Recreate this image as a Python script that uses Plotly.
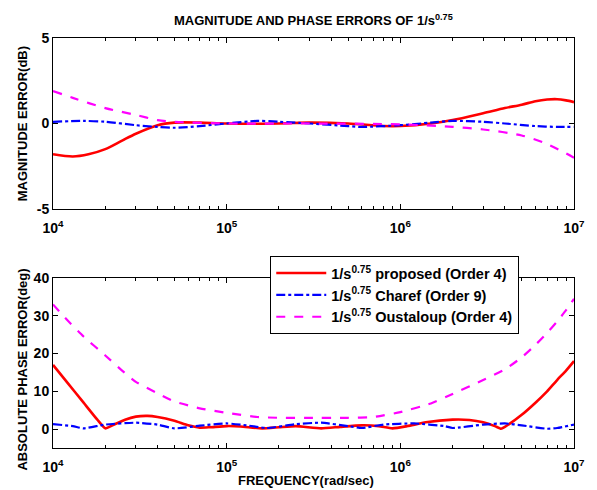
import plotly.graph_objects as go

# Magnitude error (dB) vs frequency (rad/sec)
freq_mag_proposed = [1e4, 1.3e4, 1.6e4, 2e4, 2.5e4, 3e4, 4e4, 5e4, 7e4, 1e5, 2e5, 3e5, 5e5,
                     8e5, 1e6, 1.5e6, 2e6, 3e6, 4e6, 5e6, 6e6, 7e6, 8e6, 9e6, 1e7]
mag_proposed = [-1.8, -1.93, -1.8, -1.5, -1.0, -0.6, -0.1, 0.05, 0.05, 0.0, 0.0, 0.05, 0.0,
                -0.15, -0.15, 0.0, 0.2, 0.6, 0.9, 1.1, 1.3, 1.4, 1.42, 1.35, 1.25]

freq_mag_charef = [1e4, 1.5e4, 2e4, 3e4, 4e4, 5e4, 7e4, 1e5, 1.5e5, 2e5, 3e5, 5e5, 6e5,
                   1e6, 1.5e6, 2e6, 3e6, 4e6, 6e6, 8e6, 1e7]
mag_charef = [0.1, 0.15, 0.1, -0.1, -0.2, -0.25, -0.15, 0.0, 0.15, 0.1, 0.0, -0.15, -0.2,
              -0.1, 0.05, 0.15, 0.1, 0.0, -0.15, -0.2, -0.2]

freq_mag_oustaloup = [1e4, 1.3e4, 2e4, 3e4, 4e4, 5e4, 1e5, 3e5, 1e6, 2e6, 3e6, 5e6, 7e6, 1e7]
mag_oustaloup = [1.9, 1.5, 0.9, 0.5, 0.2, 0.1, 0.0, 0.0, -0.05, -0.2, -0.35, -0.7, -1.2, -2.0]

# Absolute phase error (deg) vs frequency (rad/sec)
freq_ph_proposed = [1e4, 1.2e4, 1.5e4, 1.8e4, 2e4, 2.2e4, 2.6e4, 3e4, 3.5e4, 4e4, 5e4, 6e4,
                    7e4, 8e4, 1e5, 1.2e5, 1.6e5, 2e5, 2.5e5, 3.5e5, 4.5e5, 6e5, 7.5e5, 9e5,
                    1.1e6, 1.4e6, 2e6, 2.5e6, 3e6, 3.5e6, 3.8e6, 4e6, 5e6, 6e6, 7e6, 8e6,
                    9e6, 1e7]
ph_proposed = [17.0, 12.5, 7.0, 2.5, 0.2, 1.0, 2.5, 3.3, 3.5, 3.2, 2.2, 1.0,
               0.4, 0.5, 0.8, 0.7, 0.2, 0.5, 0.8, 0.2, 0.6, 1.0, 0.8, 0.2,
               0.8, 1.8, 2.5, 2.4, 1.8, 0.8, 0.1, 0.6, 3.8, 7.0, 10.0, 13.0,
               15.5, 18.0]

freq_ph_charef = [1e4, 1.3e4, 1.5e4, 2e4, 3e4, 4e4, 5e4, 7e4, 1e5, 1.3e5, 1.7e5, 2.5e5,
                  3.5e5, 5e5, 6e5, 8e5, 1.2e6, 1.8e6, 2e6, 3e6, 4e6, 5e6, 7e6, 8e6, 1e7]
ph_charef = [1.3, 0.8, 0.2, 1.2, 1.7, 1.2, 0.2, 0.9, 1.5, 1.0, 0.3, 1.3,
             1.7, 0.8, 0.3, 1.2, 1.5, 0.8, 0.3, 1.2, 1.5, 1.0, 0.1, 0.3, 1.2]

freq_ph_oustaloup = [1e4, 1.2e4, 1.5e4, 2e4, 2.5e4, 3e4, 4e4, 5e4, 7e4, 1e5, 1.5e5, 2e5,
                     3e5, 5e5, 7e5, 1e6, 1.5e6, 2e6, 3e6, 4e6, 5e6, 6e6, 7e6, 8e6, 9e6, 1e7]
ph_oustaloup = [33.0, 29.0, 24.5, 19.5, 15.5, 12.5, 9.5, 7.3, 5.5, 4.3, 3.2, 3.0,
                3.0, 3.0, 3.2, 4.5, 6.8, 9.3, 13.0, 15.8, 19.0, 22.3, 25.5, 28.5, 31.5, 34.5]

names = ["1/s<sup>0.75</sup> proposed (Order 4)",
         "1/s<sup>0.75</sup> Charef (Order 9)",
         "1/s<sup>0.75</sup> Oustaloup (Order 4)"]
colors = ["#ff0000", "#0000ff", "#ff00ff"]
dashes = ["solid", "dashdot", "dash"]
widths = [2.6, 2.2, 2.2]

xtick_vals = [1e4, 1e5, 1e6, 1e7]
xtick_text = ["10<sup>4</sup>", "10<sup>5</sup>", "10<sup>6</sup>", "10<sup>7</sup>"]

FONT = "Liberation Sans"

fig = go.Figure()

mag_series = [(freq_mag_proposed, mag_proposed), (freq_mag_charef, mag_charef),
              (freq_mag_oustaloup, mag_oustaloup)]
ph_series = [(freq_ph_proposed, ph_proposed), (freq_ph_charef, ph_charef),
             (freq_ph_oustaloup, ph_oustaloup)]

for i, (fx, fy) in enumerate(mag_series):
    fig.add_trace(go.Scatter(
        x=fx, y=fy, mode="lines", xaxis="x", yaxis="y", showlegend=False,
        line=dict(color=colors[i], dash=dashes[i], width=widths[i],
                  shape="spline", smoothing=0.8)))

for i, (fx, fy) in enumerate(ph_series):
    fig.add_trace(go.Scatter(
        x=fx, y=fy, mode="lines", xaxis="x2", yaxis="y2", name=names[i],
        line=dict(color=colors[i], dash=dashes[i], width=widths[i],
                  shape="spline", smoothing=0.5)))

axis_common = dict(
    showline=True, linecolor="black", linewidth=1, mirror="ticks",
    ticks="inside", ticklen=5, tickcolor="black", showgrid=False, zeroline=False,
    tickfont=dict(family=FONT, size=14, color="black", weight="bold"),
)

xaxis_common = dict(
    axis_common, type="log", range=[4, 7],
    tickvals=xtick_vals, ticktext=xtick_text, ticklabelstandoff=6,
    minor=dict(ticks="inside", ticklen=3, tickcolor="black",
               tickvals=[k * 10 ** e for e in (4, 5, 6) for k in range(2, 10)]),
)

fig.update_layout(
    width=597, height=490,
    margin=dict(l=53, r=14, t=38, b=42),
    paper_bgcolor="white", plot_bgcolor="white",
    xaxis=dict(xaxis_common, domain=[0, 1], anchor="y"),
    yaxis=dict(axis_common, domain=[0.583, 1], range=[-5, 5],
               tickvals=[-5, 0, 5], ticktext=["-5", "0", "5"], anchor="x"),
    xaxis2=dict(xaxis_common, domain=[0, 1], anchor="y2"),
    yaxis2=dict(axis_common, domain=[0, 0.4146], range=[-5, 40],
                tickvals=[0, 10, 20, 30, 40], anchor="x2"),
    legend=dict(x=0.417, y=0.468, xanchor="left", yanchor="top",
                bgcolor="white", bordercolor="black", borderwidth=1,
                itemwidth=50,
                font=dict(family=FONT, size=14.5, color="black", weight="bold")),
    showlegend=True,
)

label_font = dict(family=FONT, size=13, color="black", weight="bold")
fig.add_annotation(text="MAGNITUDE AND PHASE ERRORS OF 1/s<sup>0.75</sup>",
                   xref="paper", yref="paper", x=0.5, y=1.044, showarrow=False,
                   xanchor="center", yanchor="middle",
                   font=dict(family=FONT, size=13, color="black", weight="bold"))
fig.add_annotation(text="MAGNITUDE ERROR(dB)", xref="paper", yref="paper",
                   x=-0.0585, y=0.791, textangle=-90, showarrow=False,
                   xanchor="center", yanchor="middle", font=label_font)
fig.add_annotation(text="ABSOLUTE PHASE ERROR(deg)", xref="paper", yref="paper",
                   x=-0.0585, y=0.19, textangle=-90, showarrow=False,
                   xanchor="center", yanchor="middle", font=label_font)
fig.add_annotation(text="FREQUENCY(rad/sec)", xref="paper", yref="paper",
                   x=0.485, y=-0.079, showarrow=False,
                   xanchor="center", yanchor="middle", font=label_font)

fig.write_html("out.html")
